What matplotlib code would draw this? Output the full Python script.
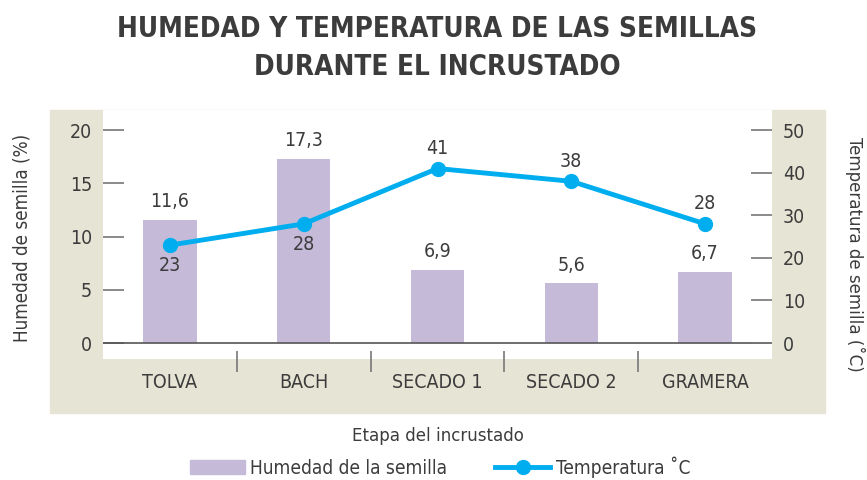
import matplotlib
matplotlib.use("Agg")
from matplotlib import pyplot as plt
from matplotlib import font_manager
from matplotlib.patches import Rectangle
from matplotlib.lines import Line2D
from matplotlib.patches import Patch

etapas = ["TOLVA", "BACH", "SECADO 1", "SECADO 2", "GRAMERA"]
humedad = [11.6, 17.3, 6.9, 5.6, 6.7]
temperatura = [23, 28, 41, 38, 28]
humedad_txt = ["11,6", "17,3", "6,9", "5,6", "6,7"]
temp_above = [False, False, True, True, True]

names = set(f.name for f in font_manager.fontManager.ttflist)
if "Liberation Sans Narrow" in names:
    FAM = "Liberation Sans Narrow"
    STRETCH = "normal"
else:
    FAM = "DejaVu Sans"
    STRETCH = "condensed"
plt.rcParams["font.family"] = [FAM, "DejaVu Sans"]
plt.rcParams["font.stretch"] = STRETCH

TXT = "#3c3c3c"
BEIGE = "#e6e4d4"
BAR = "#c5bbd9"
LINE = "#00aeef"
FS = 14

fig = plt.figure(figsize=(8.67, 4.8), dpi=100)
fig.patches.append(Rectangle((50/867, 1-413/480), 775/867, 303/480,
                             transform=fig.transFigure, color=BEIGE, zorder=-5))

ax = fig.add_axes([103/867, 1-359/480, 669/867, 249/480])
ax.set_facecolor("white")
x = list(range(len(etapas)))
ax.bar(x, humedad, width=0.4, color=BAR, zorder=2)
ax.set_xlim(-0.5, 4.5)
ax.set_ylim(-1.5, 21.9)
for s in ax.spines.values():
    s.set_visible(False)
ax.axhline(0, color="#555555", lw=1.2, zorder=3)
ax.set_yticks([0, 5, 10, 15, 20])
ax.tick_params(axis="y", direction="in", length=15, width=1.2, color="#777777",
               labelsize=FS, labelcolor=TXT, pad=8)
ax.set_xticks(x)
ax.set_xticklabels(etapas)
ax.tick_params(axis="x", which="major", length=0, labelsize=FS, labelcolor=TXT, pad=16)
ax.set_xticks([0.5, 1.5, 2.5, 3.5], minor=True)
ax.tick_params(axis="x", which="minor", direction="out", length=15, width=1.2,
               color="#777777")
ax.spines["bottom"].set_position(("outward", -6))
for xi, h, t in zip(x, humedad, humedad_txt):
    ax.text(xi, h + 0.8, t, ha="center", va="bottom", fontsize=FS, color=TXT)
ax.set_ylabel("Humedad de semilla (%)", fontsize=13.5, color=TXT, va="center")
ax.yaxis.set_label_coords(-0.121, 0.486)
ax.set_xlabel("Etapa del incrustado", fontsize=13.3, color=TXT, labelpad=25)

ax2 = ax.twinx()
ax2.set_ylim(-1.5 * 2.5, 21.9 * 2.5)
for s in ax2.spines.values():
    s.set_visible(False)
ax2.plot(x, temperatura, color=LINE, lw=3.5, marker="o", ms=10, zorder=4)
ax2.set_yticks([0, 10, 20, 30, 40, 50])
ax2.tick_params(axis="y", direction="in", length=15, width=1.2, color="#777777",
                labelsize=FS, labelcolor=TXT, pad=8)
for xi, t, up in zip(x, temperatura, temp_above):
    if up:
        ax2.text(xi, t + 2.5, str(t), ha="center", va="bottom", fontsize=FS, color=TXT)
    else:
        ax2.text(xi, t - 2.5, str(t), ha="center", va="top", fontsize=FS, color=TXT)
ax2.set_ylabel("Temperatura de semilla (˚C)", fontsize=13.3, color=TXT,
               rotation=-90, va="center")
ax2.yaxis.set_label_coords(1.124, 0.42)

fig.text(437/867, 1-48/480, "HUMEDAD Y TEMPERATURA DE LAS SEMILLAS\nDURANTE EL INCRUSTADO",
         ha="center", va="center", fontsize=20, fontweight="bold", color=TXT,
         linespacing=1.45)

handles = [Patch(color=BAR), Line2D([], [], color=LINE, lw=3.5, marker="o", ms=10)]
fig.legend(handles, ["Humedad de la semilla", "Temperatura ˚C"], ncol=2,
           loc="center", bbox_to_anchor=(440/867, 1-467/480), frameon=False,
           fontsize=13.7, labelcolor=TXT, handlelength=2.9, columnspacing=2.5,
           handletextpad=0.3)

fig.savefig("out.png", dpi=100)
